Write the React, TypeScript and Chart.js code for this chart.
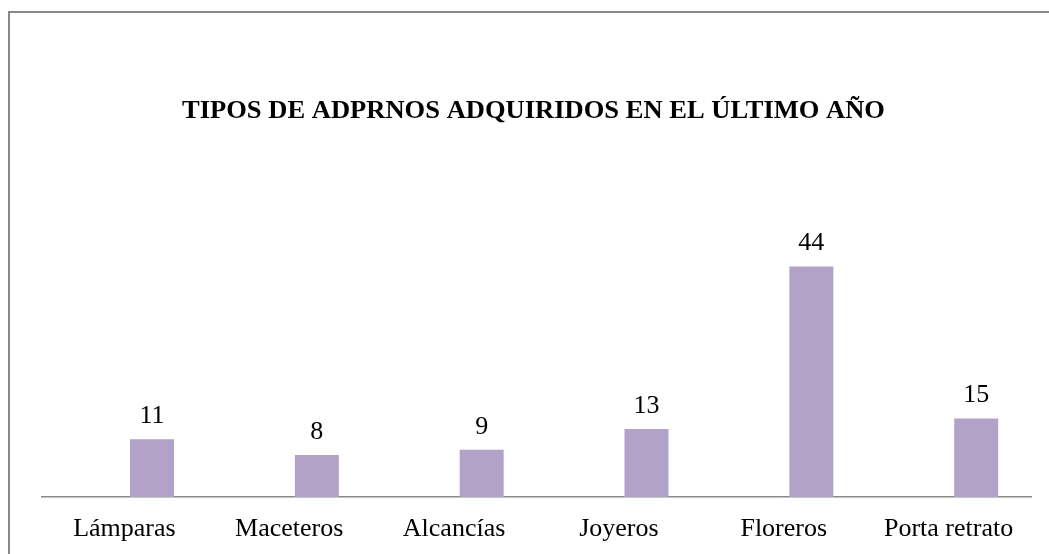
import React, { useEffect, useRef } from "react";
import { Chart, registerables } from "chart.js";

Chart.register(...registerables);

const categories = ["Lámparas", "Maceteros", "Alcancías", "Joyeros", "Floreros", "Porta retrato"];
const values = [11, 8, 9, 13, 44, 15];
const emptySeries = [null, null, null, null, null, null];
const titleText = "TIPOS DE ADPRNOS ADQUIRIDOS EN EL ÚLTIMO AÑO";

const FONT = "'Liberation Serif', 'Times New Roman', serif";

export default function App() {
  const ref = useRef<HTMLCanvasElement | null>(null);

  useEffect(() => {
    const canvas = ref.current;
    if (!canvas) return;

    const titlePlugin = {
      id: "customTitle",
      afterDraw(chart: any) {
        const ctx = chart.ctx;
        ctx.save();
        ctx.font = `bold 25.5px ${FONT}`;
        ctx.fillStyle = "#000";
        ctx.textAlign = "center";
        ctx.textBaseline = "alphabetic";
        const w = ctx.measureText(titleText).width;
        const sx = w > 0 ? 703 / w : 1;
        ctx.translate(533.5, 117.5);
        ctx.scale(sx, 1);
        ctx.fillText(titleText, 0, 0);
        ctx.restore();
      },
    };

    const labelPlugin = {
      id: "valueLabels",
      afterDatasetsDraw(chart: any) {
        const ctx = chart.ctx;
        const meta = chart.getDatasetMeta(1);
        ctx.save();
        ctx.font = `26px ${FONT}`;
        ctx.fillStyle = "#000";
        ctx.textAlign = "center";
        ctx.textBaseline = "alphabetic";
        meta.data.forEach((el: any, i: number) => {
          const v = values[i];
          if (v == null) return;
          ctx.fillText(String(v), el.x, el.y - 16);
        });
        ctx.restore();
      },
    };

    const chart = new Chart(canvas, {
      type: "bar",
      data: {
        labels: categories,
        datasets: [
          {
            label: "",
            data: emptySeries as any,
            backgroundColor: "rgba(0,0,0,0)",
            categoryPercentage: 0.67,
            barPercentage: 0.797,
          },
          {
            label: "Cantidad",
            data: values,
            backgroundColor: "#B3A2C7",
            borderWidth: 0,
            categoryPercentage: 0.67,
            barPercentage: 0.797,
          },
        ],
      },
      options: {
        responsive: false,
        animation: false,
        layout: { padding: { left: 42, right: 18, top: 235, bottom: 0 } },
        plugins: {
          legend: { display: false },
          title: { display: false },
          tooltip: { enabled: false },
        },
        scales: {
          x: {
            grid: { display: true, drawOnChartArea: false, drawTicks: false },
            border: { display: true, color: "#8a8a8a", width: 1.5 },
            ticks: {
              color: "#000",
              font: { family: FONT, size: 26 },
              padding: 17,
              maxRotation: 0,
              autoSkip: false,
            },
            afterFit: (s: any) => {
              s.height = 57;
            },
          },
          y: {
            display: false,
            min: 0,
            max: 50,
          },
        },
      },
      plugins: [titlePlugin, labelPlugin],
    });

    return () => chart.destroy();
  }, []);

  return (
    <div style={{ position: "fixed", inset: 0, background: "#fff", overflow: "hidden" }}>
      <div
        style={{
          position: "absolute",
          left: 8,
          top: 11,
          width: "calc(100vw - 8px)",
          height: "calc(100vh - 11px)",
          boxSizing: "border-box",
          borderTop: "2px solid #878787",
          borderLeft: "2px solid #878787",
        }}
      />
      <canvas
        ref={ref}
        width={1049}
        height={554}
        style={{ position: "absolute", left: 0, top: 0, width: 1049, height: 554 }}
      />
    </div>
  );
}
